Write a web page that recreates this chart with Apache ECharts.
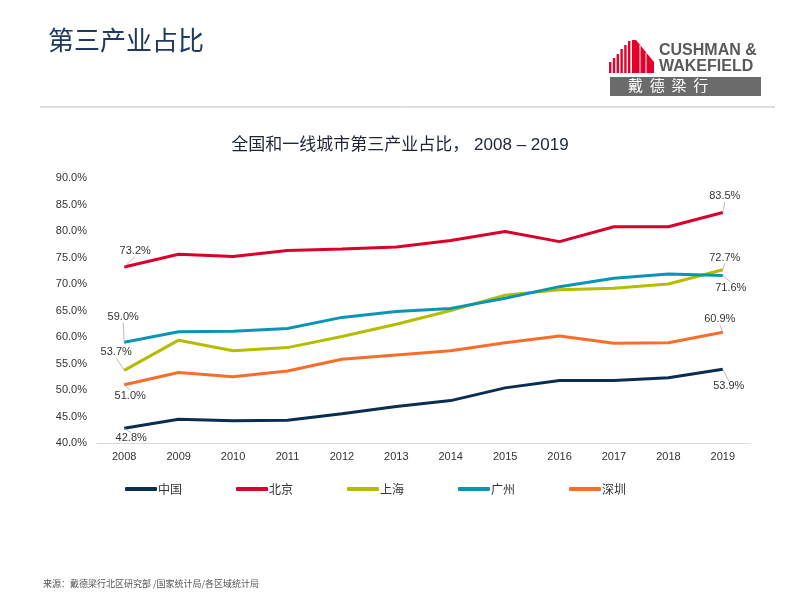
<!DOCTYPE html>
<html>
<head>
<meta charset="utf-8">
<script src="https://cdn.jsdelivr.net/npm/echarts@6/dist/echarts.min.js"></script>
<style>html,body{margin:0;padding:0;background:#fff}#c{width:800px;height:600px}</style>
</head>
<body>
<div id="c"></div>
<script>
const years = ['2008','2009','2010','2011','2012','2013','2014','2015','2016','2017','2018','2019'];
const seriesNames = ['中国','北京','上海','广州','深圳'];
const china     = [42.8, 44.5, 44.2, 44.3, 45.5, 46.9, 48.0, 50.4, 51.8, 51.8, 52.3, 53.9];
const beijing   = [73.2, 75.6, 75.2, 76.3, 76.6, 77.0, 78.2, 79.9, 78.0, 80.8, 80.8, 83.5];
const shanghai  = [53.7, 59.4, 57.4, 58.0, 60.1, 62.4, 65.0, 67.9, 68.9, 69.2, 70.0, 72.7];
const guangzhou = [59.0, 61.0, 61.1, 61.6, 63.7, 64.8, 65.4, 67.3, 69.5, 71.1, 71.9, 71.6];
const shenzhen  = [51.0, 53.3, 52.5, 53.6, 55.8, 56.6, 57.4, 58.9, 60.2, 58.8, 58.9, 60.9];
const yTicks = { min: 40, max: 90, interval: 5 };

const colors = ['#0b2d52', '#d9002b', '#b4bd00', '#0a95b4', '#f96d2a'];
const allData = [china, beijing, shanghai, guangzhou, shenzhen];
// label offsets (dx, dy) for first and last point of each series
const labelOffsets = [
  [[7, 10], [6, 17]],
  [[11, -16], [2, -16]],
  [[-8, -18], [2, -12]],
  [[-1, -25], [8, 12]],
  [[6, 11], [-3, -13]]
];

const chart = echarts.init(document.getElementById('c'));
const last = years.length - 1;
const series = allData.map((vals, si) => ({
  name: seriesNames[si],
  type: 'line',
  data: vals.map((v, i) => (i === 0 || i === last)
    ? { value: v, label: { show: true } } : v),
  symbol: 'circle',
  symbolSize: 0.5,
  showAllSymbol: true,
  lineStyle: { width: 3, color: colors[si] },
  itemStyle: { color: colors[si] },
  label: {
    show: false, position: 'inside',
    formatter: p => p.value.toFixed(1) + '%',
    color: '#333', fontSize: 11, fontFamily: 'Liberation Sans, Arial, sans-serif'
  },
  labelLine: { show: true, lineStyle: { color: '#aaa', width: 0.8 } },
  labelLayout: function (params) {
    const idx = params.dataIndex === 0 ? 0 : 1;
    const off = labelOffsets[si][idx];
    return { dx: off[0], dy: off[1] };
  },
  z: 2
}));

const logoBars = [];
const barTops = [62, 58, 54, 49, 45, 41];
barTops.forEach((t, i) => {
  logoBars.push({ type: 'rect', shape: { x: 609 + i * 3.8, y: t, width: 2.4, height: 73 - t }, style: { fill: '#e4002b' } });
});

chart.setOption({
  animation: false,
  color: colors,
  title: [
    { text: '第三产业占比', left: 43, top: 22, textStyle: { fontSize: 26, fontWeight: 'normal', color: '#1e3a60', fontFamily: 'Noto Sans CJK SC, sans-serif' } },
    { text: '全国和一线城市第三产业占比， 2008 – 2019', left: 'center', top: 132, textStyle: { fontSize: 17, fontWeight: 'normal', color: '#1c2536', fontFamily: 'Liberation Sans, Noto Sans CJK SC, sans-serif' } }
  ],
  grid: { left: 97, right: 50, top: 178, bottom: 157 },
  legend: {
    data: seriesNames,
    left: 120, top: 478,
    itemWidth: 32, itemHeight: 4, itemGap: 54,
    icon: 'roundRect',
    textStyle: { fontSize: 12, color: '#333', padding: [0, 0, 0, -4], fontFamily: 'Noto Sans CJK SC, sans-serif' }
  },
  xAxis: {
    type: 'category', data: years, boundaryGap: true,
    axisLine: { lineStyle: { color: '#d9d9d9', width: 1 } },
    axisTick: { show: false },
    axisLabel: { color: '#333', fontSize: 11, margin: 8, fontFamily: 'Liberation Sans, Arial, sans-serif' }
  },
  yAxis: {
    type: 'value', min: yTicks.min, max: yTicks.max, interval: yTicks.interval,
    axisLine: { show: false }, axisTick: { show: false }, splitLine: { show: false },
    axisLabel: { color: '#333', fontSize: 11, margin: 10, formatter: v => v.toFixed(1) + '%', fontFamily: 'Liberation Sans, Arial, sans-serif' }
  },
  series: series,
  graphic: [
    { type: 'line', shape: { x1: 40, y1: 107, x2: 775, y2: 107 }, style: { stroke: '#bfbfbf', lineWidth: 1 } },
    ...logoBars,
    { type: 'polygon', shape: { points: [[632, 40], [636, 40], [654, 62], [654, 73], [632, 73]] }, style: { fill: '#e4002b' } },
    { type: 'line', shape: { x1: 640, y1: 45, x2: 640, y2: 73 }, style: { stroke: '#fff', lineWidth: 1 } },
    { type: 'line', shape: { x1: 646, y1: 53, x2: 646, y2: 73 }, style: { stroke: '#fff', lineWidth: 1 } },
    { type: 'text', left: 659, top: 43, style: { text: 'CUSHMAN &', fill: '#5a5a5a', font: 'bold 16px Liberation Sans, Arial, sans-serif' } },
    { type: 'text', left: 659, top: 59, style: { text: 'WAKEFIELD', fill: '#5a5a5a', font: 'bold 16px Liberation Sans, Arial, sans-serif' } },
    { type: 'rect', shape: { x: 610, y: 77, width: 151, height: 19 }, style: { fill: '#6b6b6b' } },
    { type: 'text', left: 628, top: 78, style: { text: '戴  德  梁  行', fill: '#fff', font: '15px Noto Sans CJK TC, sans-serif' } },
    { type: 'text', left: 43, top: 579, style: { text: '来源：戴德梁行北区研究部 /国家统计局/各区域统计局', fill: '#555', font: '9px Noto Sans CJK SC, sans-serif' } }
  ]
});
</script>
</body>
</html>
